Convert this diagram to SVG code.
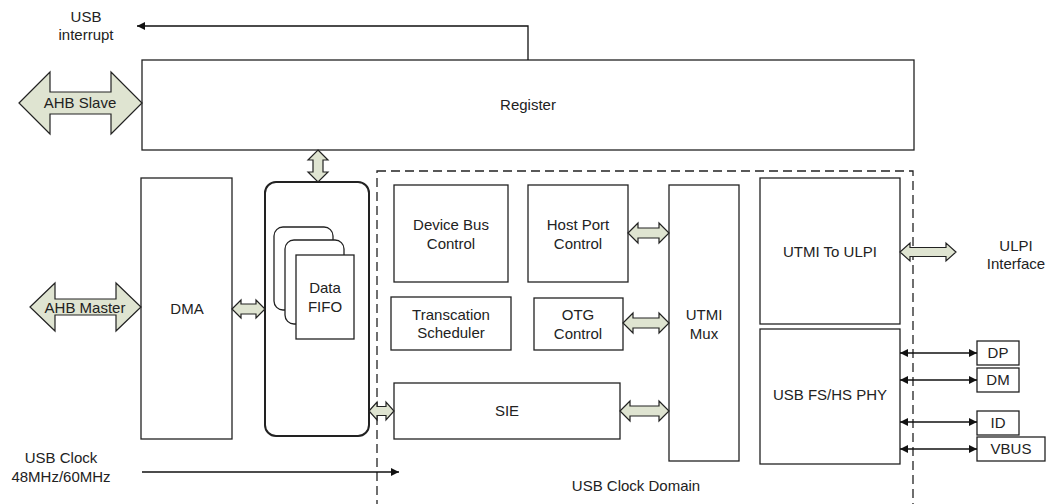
<svg xmlns="http://www.w3.org/2000/svg" width="1058" height="504" viewBox="0 0 1058 504">
<defs>
<style>
.box{fill:#fff;stroke:#222;stroke-width:1.3}
.bold{fill:#fff;stroke:#222;stroke-width:2}
.fat{fill:#dfe4d1;stroke:#222;stroke-width:1.2;stroke-linejoin:miter}
.ln{fill:none;stroke:#111;stroke-width:1.3}
.dash{fill:none;stroke:#222;stroke-width:1.3;stroke-dasharray:9,5}
text{font-family:"Liberation Sans",Arial,sans-serif;font-size:15px;fill:#222;text-anchor:middle}
</style>
<marker id="ah" viewBox="0 0 10 10" refX="10" refY="5" markerWidth="8" markerHeight="8" orient="auto-start-reverse" markerUnits="userSpaceOnUse">
<path d="M0,0 L10,5 L0,10 Z" fill="#111"/>
</marker>
</defs>
<rect width="1058" height="504" fill="#fff"/>

<g id="clock-domain">
<rect class="dash" x="377" y="171" width="536" height="340"/>
<text x="636" y="491">USB Clock Domain</text>
</g>

<g id="register">
<rect class="box" x="142" y="60" width="772" height="90"/>
<text x="528" y="110">Register</text>
</g>

<g id="dma">
<rect class="box" x="141" y="178" width="91" height="261"/>
<text x="187" y="314">DMA</text>
</g>

<g id="fifo">
<rect class="bold" x="265" y="182" width="104" height="254" rx="11"/>
<rect class="box" x="274" y="227" width="59" height="83" rx="9" stroke-width="1.6"/>
<rect class="box" x="285" y="240" width="59" height="84" rx="9" stroke-width="1.6"/>
<rect class="box" x="296" y="255" width="58" height="84"/>
<text x="325" y="293">Data</text>
<text x="325" y="312">FIFO</text>
</g>

<g id="device-bus">
<rect class="box" x="394" y="185" width="114" height="97"/>
<text x="451" y="230">Device Bus</text>
<text x="451" y="249">Control</text>
</g>

<g id="host-port">
<rect class="box" x="528" y="185" width="100" height="97"/>
<text x="578" y="230">Host Port</text>
<text x="578" y="249">Control</text>
</g>

<g id="scheduler">
<rect class="box" x="391" y="297" width="120" height="53"/>
<text x="451" y="320">Transcation</text>
<text x="451" y="338">Scheduler</text>
</g>

<g id="otg">
<rect class="box" x="534" y="298" width="89" height="52"/>
<text x="578" y="320">OTG</text>
<text x="578" y="339">Control</text>
</g>

<g id="utmi-mux">
<rect class="box" x="669" y="185" width="70" height="276"/>
<text x="704" y="320">UTMI</text>
<text x="704" y="339">Mux</text>
</g>

<g id="sie">
<rect class="box" x="394" y="383" width="226" height="56"/>
<text x="507" y="416">SIE</text>
</g>

<g id="utmi-ulpi">
<rect class="box" x="760" y="178" width="140" height="146"/>
<text x="830" y="257">UTMI To ULPI</text>
</g>

<g id="phy">
<rect class="box" x="760" y="329" width="140" height="135"/>
<text x="830" y="400">USB FS/HS PHY</text>
</g>

<g id="dp"><rect class="box" x="977" y="341" width="42" height="24"/><text x="998" y="358">DP</text></g>
<g id="dm"><rect class="box" x="977" y="368" width="42" height="24"/><text x="998" y="385">DM</text></g>
<g id="id"><rect class="box" x="977" y="411" width="42" height="24"/><text x="998" y="428">ID</text></g>
<g id="vbus"><rect class="box" x="977" y="437" width="68" height="24"/><text x="1011" y="454">VBUS</text></g>

<g id="labels">
<text x="86" y="22">USB</text>
<text x="86" y="40">interrupt</text>
<text x="1016" y="251">ULPI</text>
<text x="1016" y="269">Interface</text>
<text x="61" y="463">USB Clock</text>
<text x="61" y="482">48MHz/60MHz</text>
</g>

<g id="connectors">
<path class="ln" d="M528,60 V26 H137" marker-end="url(#ah)"/>
<path class="ln" d="M142,472 H399" marker-end="url(#ah)"/>
<path class="ln" d="M900,353 H977" marker-start="url(#ah)" marker-end="url(#ah)"/>
<path class="ln" d="M900,380 H977" marker-start="url(#ah)" marker-end="url(#ah)"/>
<path class="ln" d="M900,422 H977" marker-start="url(#ah)" marker-end="url(#ah)"/>
<path class="ln" d="M900,449 H977" marker-start="url(#ah)" marker-end="url(#ah)"/>

<g id="ahb-slave">
<path class="fat" d="M19,103 L50,72 L50,92 L111,92 L111,72 L142,103 L111,134 L111,114 L50,114 L50,134 Z"/>
<text x="80" y="108">AHB Slave</text>
</g>
<g id="ahb-master">
<path class="fat" d="M30,307 L55,283 L55,299 L116,299 L116,283 L141,307 L116,331 L116,315 L55,315 L55,331 Z"/>
<text x="85" y="313">AHB Master</text>
</g>
<path class="fat" d="M318,150 L328,160 L323,160 L323,172 L328,172 L318,182 L308,172 L313,172 L313,160 L308,160 Z"/>
<path class="fat" d="M232,309 L241,300 L241,304 L256,304 L256,300 L265,309 L256,318 L256,314 L241,314 L241,318 Z"/>
<path class="fat" d="M369,411 L377,402 L377,406.5 L386,406.5 L386,402 L394,411 L386,420 L386,415.5 L377,415.5 L377,420 Z"/>
<path class="fat" d="M628,233 L638,223 L638,228 L659,228 L659,223 L669,233 L659,243 L659,238 L638,238 L638,243 Z"/>
<path class="fat" d="M623,323 L633,313 L633,318 L659,318 L659,313 L669,323 L659,333 L659,328 L633,328 L633,333 Z"/>
<path class="fat" d="M620,411 L630,401 L630,406 L659,406 L659,401 L669,411 L659,421 L659,416 L630,416 L630,421 Z"/>
<path class="fat" d="M900,252 L910,243 L910,247.5 L946,247.5 L946,243 L956,252 L946,261 L946,256.5 L910,256.5 L910,261 Z"/>
</g>
</svg>
